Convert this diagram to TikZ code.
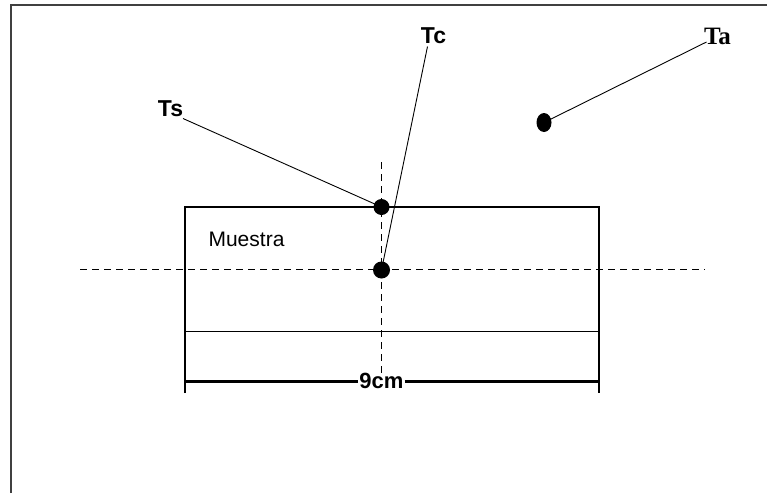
\documentclass[tikz,border=0pt]{standalone}
\usepackage{fontspec}
\usetikzlibrary{shapes.geometric}
\setmainfont{Liberation Sans}
\newfontfamily\serifbf{Liberation Serif}
\begin{document}
\begin{tikzpicture}[x=1pt,y=-1pt,
  frame/.style={draw=black!75,line width=2.8pt},
  body/.style={draw=black,line width=1.4pt},
  axisline/.style={draw=black,line width=1.1pt,dash pattern=on 7pt off 5pt},
  leader/.style={draw=black,line width=0.9pt},
  dot/.style={fill=black,ellipse,inner sep=0pt,minimum width=#1,minimum height=#1},
  lbl/.style={font=\fontsize{23}{23}\selectfont\bfseries,inner sep=0pt},
  dimline/.style={draw=black,line width=3pt}]
\useasboundingbox (0,0) rectangle (767,493);
% frame
\draw[frame] (11,493) -- (11,5) -- (767,5);
% sample body
\draw[body] (185,393) -- (185,207) -- (599,207) -- (599,393);
\draw[body] (185,331.5) -- (599,331.5);
% axes
\draw[axisline] (80,269.5) -- (705,269.5);
\draw[axisline] (381.5,162) -- (381.5,377);
% dimension
\node[font=\fontsize{22}{22}\selectfont\bfseries,fill=white,inner xsep=1pt,inner ysep=0pt] (dim) at (381.5,381) {9cm};
\coordinate (dl) at (185,381);
\coordinate (dr) at (599,381);
\draw[dimline] (dl) -- (dim.west);
\draw[dimline] (dim.east) -- (dr);
% text
\node[font=\fontsize{21}{21}\selectfont,inner sep=0pt] (muestra) at (246.5,239.5) {Muestra};
% sensors
\node[dot=16pt] (sdot) at (381.5,207) {};
\node[dot=17pt] (cdot) at (381.5,270) {};
\node[ellipse,fill=black,inner sep=0pt,minimum width=15pt,minimum height=19pt] (adot) at (544,122.5) {};
\node[lbl] (ts) at (170.5,108.5) {Ts};
\node[lbl] (tc) at (433.5,36) {Tc};
\node[font=\serifbf\bfseries\fontsize{25}{25}\selectfont,inner sep=0pt] (ta) at (717.5,36.5) {Ta};
\coordinate (tsend) at (183,118.5);
\coordinate (tcend) at (427.5,46.5);
\coordinate (taend) at (706.5,42);
\draw[leader] (tsend) -- (sdot.center);
\draw[leader] (tcend) -- (cdot.center);
\draw[leader] (taend) -- (adot.center);
\end{tikzpicture}
\end{document}
